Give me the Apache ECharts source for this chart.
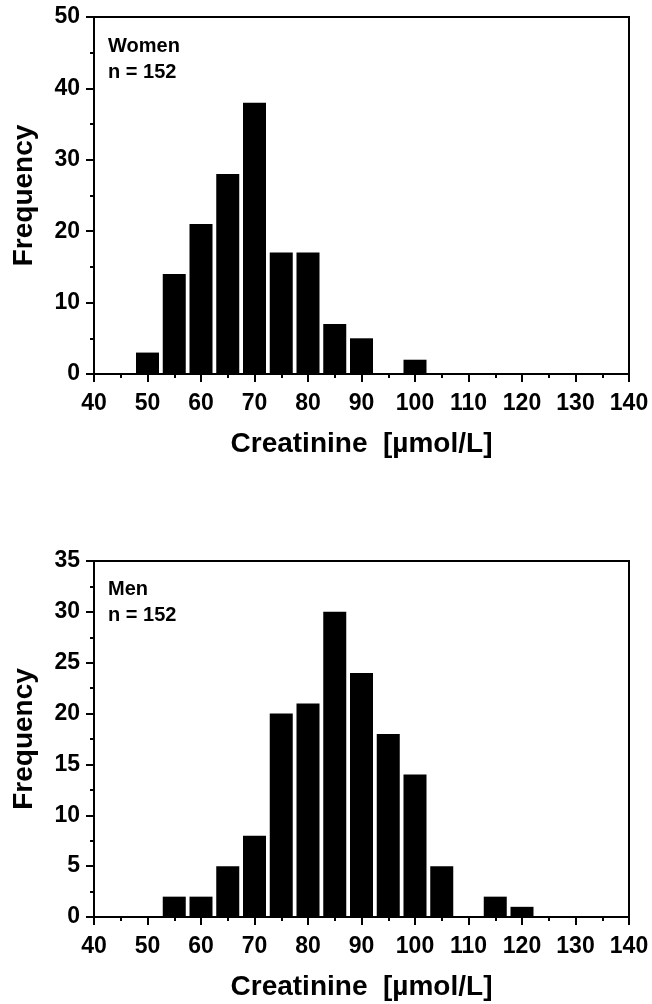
<!DOCTYPE html>
<html>
<head>
<meta charset="utf-8">
<script src="https://cdn.jsdelivr.net/npm/echarts@6/dist/echarts.min.js"></script>
<style>
  html, body { margin: 0; padding: 0; background: #fff; }
  #chart { width: 652px; height: 1004px; }
</style>
</head>
<body>
<div id="chart"></div>
<script>
// bin centres (µmol/L) and counts
var womenBins = [50, 55, 60, 65, 70, 75, 80, 85, 90, 95, 100];
var womenFreq = [3, 14, 21, 28, 38, 17, 17, 7, 5, 0, 2];
var menBins = [55, 60, 65, 70, 75, 80, 85, 90, 95, 100, 105, 110, 115, 120];
var menFreq = [2, 2, 5, 8, 20, 21, 30, 24, 18, 14, 5, 0, 2, 1];

var font = '"Liberation Sans", Arial, sans-serif';

function pairs(bins, freq) {
    return bins.map(function (b, i) { return [b, freq[i]]; });
}

function xAxis(idx) {
    return {
        gridIndex: idx,
        type: 'value',
        min: 40, max: 140, interval: 10,
        name: 'Creatinine  [µmol/L]',
        nameLocation: 'middle',
        nameGap: 56,
        nameTextStyle: { color: '#000', fontFamily: font, fontWeight: 'bold', fontSize: 28 },
        axisLine: { show: true, lineStyle: { color: '#000', width: 2 } },
        axisTick: { show: true, length: 8, lineStyle: { color: '#000', width: 2 } },
        minorTick: { show: true, splitNumber: 2, length: 4, lineStyle: { color: '#000', width: 2 } },
        axisLabel: { color: '#000', fontFamily: font, fontWeight: 'bold', fontSize: 23, margin: 18 },
        splitLine: { show: false }
    };
}

function yAxis(idx, max, step) {
    return {
        gridIndex: idx,
        type: 'value',
        min: 0, max: max, interval: step,
        name: 'Frequency',
        nameLocation: 'middle',
        nameRotate: 90,
        nameGap: 56,
        nameTextStyle: { color: '#000', fontFamily: font, fontWeight: 'bold', fontSize: 28 },
        axisLine: { show: true, lineStyle: { color: '#000', width: 2 } },
        axisTick: { show: true, length: 8, lineStyle: { color: '#000', width: 2 } },
        minorTick: { show: true, splitNumber: 2, length: 4, lineStyle: { color: '#000', width: 2 } },
        axisLabel: { color: '#000', fontFamily: font, fontWeight: 'bold', fontSize: 23, margin: 14 },
        splitLine: { show: false }
    };
}

var chart = echarts.init(document.getElementById('chart'), null, { renderer: 'canvas' });
chart.setOption({
    animation: false,
    backgroundColor: '#fff',
    grid: [
        { left: 94, right: 23, top: 17, height: 357, show: true, borderColor: '#000', borderWidth: 2 },
        { left: 94, right: 23, top: 561, height: 356, show: true, borderColor: '#000', borderWidth: 2 }
    ],
    xAxis: [xAxis(0), xAxis(1)],
    yAxis: [yAxis(0, 50, 10), yAxis(1, 35, 5)],
    graphic: [
        { type: 'text', left: 108, top: 33, style: { text: 'Women\nn = 152', fill: '#000', font: 'bold 20px ' + font, lineHeight: 26 } },
        { type: 'text', left: 108, top: 576, style: { text: 'Men\nn = 152', fill: '#000', font: 'bold 20px ' + font, lineHeight: 26 } }
    ],
    series: [
        { type: 'bar', xAxisIndex: 0, yAxisIndex: 0, barWidth: 23, itemStyle: { color: '#000' }, data: pairs(womenBins, womenFreq) },
        { type: 'bar', xAxisIndex: 1, yAxisIndex: 1, barWidth: 23, itemStyle: { color: '#000' }, data: pairs(menBins, menFreq) }
    ]
});
</script>
</body>
</html>
